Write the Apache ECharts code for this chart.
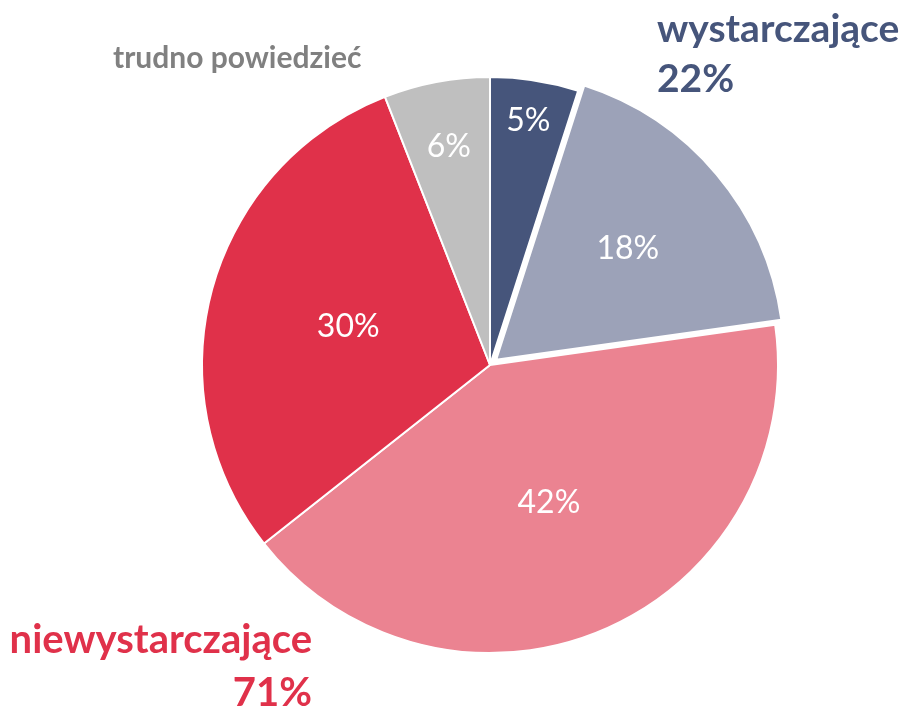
<!DOCTYPE html>
<html>
<head>
<meta charset="utf-8">
<script src="https://cdn.jsdelivr.net/npm/echarts@6/dist/echarts.min.js"></script>
<style>
html,body{margin:0;padding:0;background:#fff;}
#chart{width:907px;height:708px;}
</style>
</head>
<body>
<div id="chart"></div>
<script>
// ---- data ----
const sliceNames = ['wystarczające (bardzo)', 'wystarczające (raczej)', 'niewystarczające (raczej)', 'niewystarczające (bardzo)', 'trudno powiedzieć'];
const sliceValues = [5, 18, 42, 30, 6];
const sliceLabels = ['5%', '18%', '42%', '30%', '6%'];
const groupNames = ['wystarczające', 'niewystarczające', 'trudno powiedzieć'];
const groupValues = ['22%', '71%', ''];

// ---- style ----
const sliceColors = ['#46557b', '#9ca2b8', '#eb8391', '#e0314a', '#bfbfbf'];
const labelRadius = [0.86, 0.57, 0.52, 0.51, 0.77];
const groupColors = ['#46557b', '#e0314a', '#808080'];
const CX = 490, CY = 365, R = 288, OFFSET = 8;
const FONT = 'Lato, "Open Sans", sans-serif';

const chart = echarts.init(document.getElementById('chart'), null, {renderer: 'canvas'});

const data = sliceNames.map((n, i) => ({
  name: n,
  value: sliceValues[i],
  selected: i === 1,
  itemStyle: {color: sliceColors[i]},
  label: {formatter: sliceLabels[i]}
}));

const option = {
  animation: false,
  backgroundColor: '#fff',
  series: [{
    type: 'pie',
    center: [CX, CY],
    radius: [0, R],
    startAngle: 90,
    clockwise: true,
    selectedMode: 'multiple',
    selectedOffset: OFFSET,
    avoidLabelOverlap: false,
    itemStyle: {borderColor: '#fff', borderWidth: 2},
    emphasis: {scale: false, disabled: true},
    label: {
      show: true,
      position: 'inside',
      color: '#fff',
      fontFamily: FONT,
      fontSize: 32,
      fontWeight: 'normal'
    },
    labelLine: {show: false},
    labelLayout: function (p) {
      const r = p.labelRect;
      const lx = r.x + r.width / 2, ly = r.y + r.height / 2;
      const vx = lx - CX, vy = ly - CY;
      const d = Math.sqrt(vx * vx + vy * vy) || 1;
      const target = labelRadius[p.dataIndex] * R + (p.dataIndex === 1 ? OFFSET : 0);
      return {dx: (target - d) * vx / d, dy: (target - d) * vy / d};
    },
    data: data
  }],
  graphic: [
    {
      type: 'text', left: 657, top: 4,
      style: {
        text: groupNames[0] + '\n' + groupValues[0],
        fill: groupColors[0], font: 'bold 39px ' + FONT, lineHeight: 50, textAlign: 'left'
      }
    },
    {
      type: 'text', right: 907 - 312, top: 614,
      style: {
        text: groupNames[1] + '\n' + groupValues[1],
        fill: groupColors[1], font: 'bold 40px ' + FONT, lineHeight: 53, textAlign: 'right'
      }
    },
    {
      type: 'text', left: 113, top: 43,
      style: {
        text: groupNames[2],
        fill: groupColors[2], font: 'bold 30px ' + FONT, textAlign: 'left'
      }
    }
  ]
};
chart.setOption(option);
</script>
</body>
</html>
